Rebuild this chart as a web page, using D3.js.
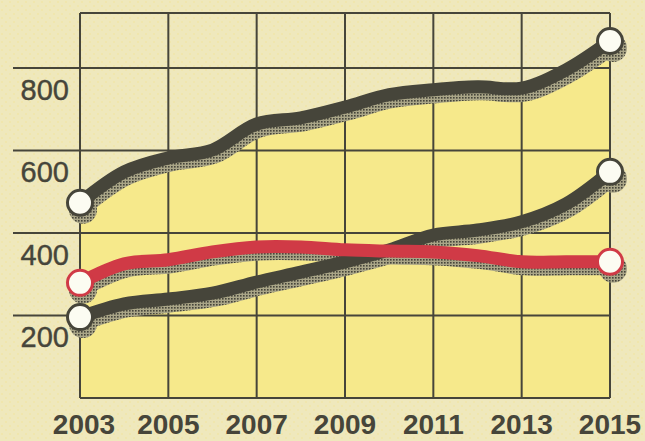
<!DOCTYPE html>
<html>
<head>
<meta charset="utf-8">
<script src="https://cdn.jsdelivr.net/npm/d3@7"></script>
<style>
  html, body { margin: 0; padding: 0; background: #EFE8BC; }
  svg { display: block; }
</style>
</head>
<body>
<svg id="chart" width="645" height="441"></svg>
<script>
const years = [2003, 2004, 2005, 2006, 2007, 2008, 2009, 2010, 2011, 2012, 2013, 2014, 2015];
const seriesTop = [473, 548, 582, 601, 664, 679, 705, 735, 747, 754, 751, 795, 865];
const seriesMid = [196, 228, 240, 254, 281, 305, 330, 359, 395, 407, 427, 470, 548];
const seriesRed = [279, 325, 335, 354, 366, 366, 359, 356, 354, 345, 330, 330, 330];
const xTicks = [2003, 2005, 2007, 2009, 2011, 2013, 2015];
const yTicks = [200, 400, 600, 800];
const yDomain = [0, 933];

const svg = d3.select("#chart");
const W = 645, H = 441;
const m = { left: 80, right: 35, top: 13, bottom: 43 };

const x = d3.scaleLinear().domain([years[0], years[years.length - 1]]).range([m.left, W - m.right]);
const y = d3.scaleLinear().domain(yDomain).range([H - m.bottom, m.top]);

const dark = "#46453A", red = "#D03A46", cream = "#EFE8BC", yellow = "#F6E98B";

const defs = svg.append("defs");
const bg = defs.append("pattern").attr("id", "bgdots").attr("patternUnits", "userSpaceOnUse")
  .attr("width", 8).attr("height", 8);
bg.append("rect").attr("width", 8).attr("height", 8).attr("fill", cream);
bg.append("circle").attr("cx", 2).attr("cy", 2).attr("r", 0.8).attr("fill", "#F3E49A");
bg.append("circle").attr("cx", 6).attr("cy", 6).attr("r", 0.8).attr("fill", "#F3E49A");

const sh = defs.append("pattern").attr("id", "shadow").attr("patternUnits", "userSpaceOnUse")
  .attr("width", 3).attr("height", 3);
sh.append("rect").attr("width", 3).attr("height", 3).attr("fill", "#A9A587");
sh.append("rect").attr("width", 1.6).attr("height", 1.6).attr("fill", dark);

svg.append("rect").attr("width", W).attr("height", H).attr("fill", "url(#bgdots)");

const toPts = arr => arr.map((v, i) => [years[i], v]);
const curve = d3.curveCatmullRom.alpha(0.5);

// yellow area under the top series
const area = d3.area().x(d => x(d[0])).y0(y(0)).y1(d => y(d[1])).curve(curve);
svg.append("path").datum(toPts(seriesTop)).attr("d", area).attr("fill", yellow);

// grid
const grid = svg.append("g").attr("stroke", dark).attr("stroke-width", 2).attr("fill", "none");
xTicks.forEach(t => {
  grid.append("line").attr("x1", x(t)).attr("x2", x(t)).attr("y1", y(yDomain[1])).attr("y2", y(0));
});
yTicks.forEach(t => {
  grid.append("line").attr("x1", 13).attr("x2", x(2015)).attr("y1", y(t)).attr("y2", y(t));
});
grid.append("line").attr("x1", x(2003)).attr("x2", x(2015)).attr("y1", y(yDomain[1])).attr("y2", y(yDomain[1]));
grid.append("line").attr("x1", x(2003)).attr("x2", x(2015)).attr("y1", y(0)).attr("y2", y(0));

const line = d3.line().x(d => x(d[0])).y(d => y(d[1])).curve(curve);
const series = [
  { data: seriesTop, color: dark },
  { data: seriesMid, color: dark },
  { data: seriesRed, color: red }
];

// shadows
const shadowG = svg.append("g").attr("transform", "translate(3,7)");
series.forEach(s => {
  shadowG.append("path").datum(toPts(s.data)).attr("d", line)
    .attr("fill", "none").attr("stroke", "url(#shadow)").attr("stroke-width", 13)
    .attr("stroke-linecap", "round").attr("stroke-linejoin", "round");
  [0, s.data.length - 1].forEach(i => {
    shadowG.append("circle").attr("cx", x(years[i])).attr("cy", y(s.data[i])).attr("r", 14)
      .attr("fill", "url(#shadow)");
  });
});

// lines
series.forEach(s => {
  svg.append("path").datum(toPts(s.data)).attr("d", line)
    .attr("fill", "none").attr("stroke", s.color).attr("stroke-width", 13)
    .attr("stroke-linecap", "round").attr("stroke-linejoin", "round");
});

// end dots
series.forEach(s => {
  [0, s.data.length - 1].forEach(i => {
    svg.append("circle").attr("cx", x(years[i])).attr("cy", y(s.data[i])).attr("r", 12.5)
      .attr("fill", "#FCFCF2").attr("stroke", s.color).attr("stroke-width", 3);
  });
});

// y labels
svg.append("g").selectAll("text").data(yTicks).join("text")
  .attr("x", 69).attr("y", d => y(d) + 32)
  .attr("text-anchor", "end")
  .attr("font-family", "'Liberation Sans', Arial, sans-serif")
  .attr("font-size", 29).attr("fill", dark)
  .attr("stroke", dark).attr("stroke-width", 0.4)
  .text(d => d);

// x labels
svg.append("g").selectAll("text").data(xTicks).join("text")
  .attr("x", (d, i) => x(d) + (i === 0 ? 4 : 0)).attr("y", 434)
  .attr("text-anchor", "middle")
  .attr("font-family", "'Liberation Sans', Arial, sans-serif")
  .attr("font-weight", "bold")
  .attr("font-size", 28).attr("fill", dark)
  .text(d => d);
</script>
</body>
</html>
